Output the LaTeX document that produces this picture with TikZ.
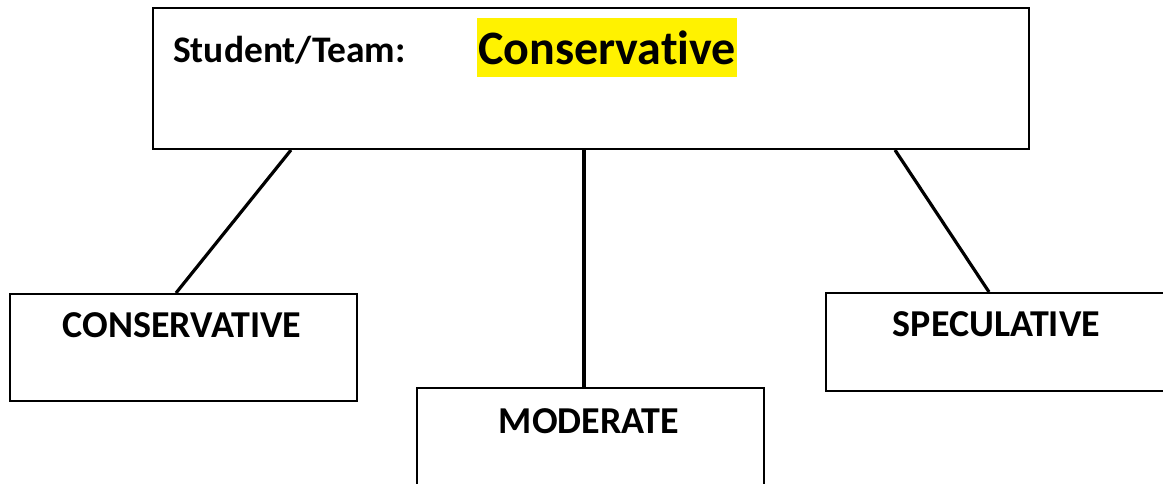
\documentclass[tikz,border=0pt]{standalone}
\usepackage{fontspec}
\setmainfont[Ligatures=CommonOff]{Carlito}
\usetikzlibrary{calc}
\begin{document}
\begin{tikzpicture}[x=1pt,y=-1pt,
  box/.style={draw,line width=2pt,rectangle,inner sep=0pt,anchor=north west},
  lbl/.style={font=\bfseries\fontsize{38}{44}\selectfont,inner sep=0pt,anchor=base},
  link/.style={line width=3.2pt}]
\useasboundingbox (0,0) rectangle (1163,484);
\node[box,minimum width=876pt,minimum height=141pt] (top) at (152,7) {};
\node[box,minimum width=347pt,minimum height=107pt] (cons) at (9,293) {};
\node[box,minimum width=347pt,minimum height=120pt] (mod) at (416,387) {};
\node[box,minimum width=345pt,minimum height=98pt] (spec) at (825,292) {};
\node[fill=yellow,inner sep=0pt,minimum width=260pt,minimum height=59pt,anchor=north west] (hl) at (477,18) {};
\node[lbl,anchor=base west,font=\bfseries\fontsize{37.5}{44}\selectfont] (st) at (173,63) {Student/Team:};
\node[lbl,anchor=base west,font=\bfseries\fontsize{48}{56}\selectfont] (cv) at (478,65) {Conservative};
\node[lbl] (tc) at (182,337) {CONSERVATIVE};
\node[lbl] (tm) at (589,433) {MODERATE};
\node[lbl] (ts) at (996.5,336) {SPECULATIVE};
\draw[link] ($(top.south west)+(139,0)$) -- ($(cons.north west)+(167,0)$);
\draw[link] ($(top.south west)+(432,0)$) -- ($(mod.north west)+(168,0)$);
\draw[link] ($(top.south west)+(743,0)$) -- ($(spec.north west)+(164,0)$);
\end{tikzpicture}
\end{document}
